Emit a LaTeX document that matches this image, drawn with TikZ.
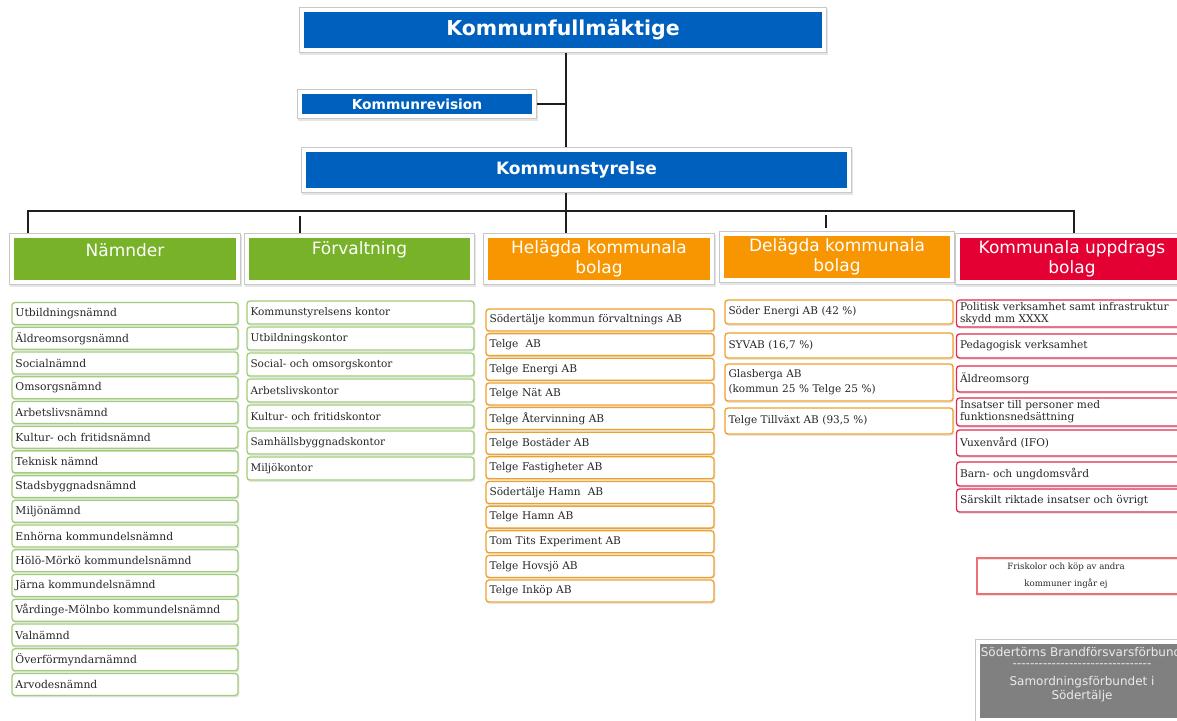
\documentclass[tikz,border=0pt]{standalone}
\usepackage{fontspec}
\setmainfont{DejaVu Serif}
\setsansfont{DejaVu Sans}
\usetikzlibrary{calc}
\definecolor{kblue}{RGB}{0,96,190}
\definecolor{kgreen}{RGB}{120,178,40}
\definecolor{korange}{RGB}{247,150,0}
\definecolor{kred}{RGB}{228,0,50}
\definecolor{kgray}{RGB}{128,128,128}
\definecolor{lgreen}{RGB}{160,205,120}
\definecolor{lorange}{RGB}{240,160,40}
\definecolor{lred}{RGB}{225,40,80}
\definecolor{fred}{RGB}{240,110,110}
\definecolor{conncol}{RGB}{30,30,30}
\begin{document}
\begin{tikzpicture}[x=1pt,y=-1pt,
  frame/.style={draw=white, line width=4pt, inner sep=0pt, outer sep=3pt,
    preaction={draw=black!10, line width=6pt, transform canvas={xshift=1.2pt,yshift=-2pt}},
    preaction={draw=black!22, line width=5.6pt}},
  htxt/.style={font=\sffamily\fontsize{17}{19.5}\selectfont, text=white, align=center, inner sep=0pt},
  btxt/.style={font=\sffamily\bfseries\fontsize{#1}{#1}\selectfont, text=white, inner sep=0pt},
  item/.style={draw=#1, fill=white, rounded corners=3pt, line width=1.3pt, inner xsep=3.5pt, inner ysep=0pt,
    align=left, text=black!85,
    preaction={draw=black!10, line width=1.3pt, transform canvas={xshift=0.8pt,yshift=-1.2pt}}},
  namitem/.style={item=lgreen, text width=219pt, minimum height=22pt, font=\fontsize{10.8}{12}\selectfont},
  foritem/.style={item=lgreen, text width=220pt, minimum height=23pt, font=\fontsize{10.5}{12}\selectfont},
  helitem/.style={item=lorange, text width=221pt, minimum height=22pt, font=\fontsize{10.6}{12}\selectfont},
  delitem/.style={item=lorange, text width=221pt, font=\fontsize{10.5}{15}\selectfont},
  kubitem/.style={item=lred, text width=226pt, font=\fontsize{10.6}{12}\selectfont},
  conn/.style={draw=conncol, line width=1.5pt},
  gtxt/.style={font=\sffamily\fontsize{12}{14}\selectfont, text=black!8, inner sep=0pt}
]
\clip (0,0) rectangle (1177,720);
\fill[white] (0,0) rectangle (1177,720);

% top level
\node[frame, fill=kblue, minimum width=522pt, minimum height=40pt] (kf) at (563,30) {};
\node[btxt=20.5] (kft) at (kf.center) {Kommunfullmäktige};
\node[frame, fill=kblue, minimum width=234pt, minimum height=24pt] (kr) at (417,104) {};
\node[btxt=13.8] (krt) at (kr.center) {Kommunrevision};
\node[frame, fill=kblue, minimum width=545pt, minimum height=40pt] (ks) at (576.5,170) {};
\node[btxt=17] (kst) at (ks.center) {Kommunstyrelse};

% column headers
\node[frame, fill=kgreen, minimum width=226pt, minimum height=46pt] (nam) at (125,259) {};
\node[htxt] (namt) at ($(nam.north)+(0,17)$) {Nämnder};
\node[frame, fill=kgreen, minimum width=225pt, minimum height=46pt] (for) at (359.5,259) {};
\node[htxt] (fort) at ($(for.north)+(0,17)$) {Förvaltning};
\node[frame, fill=korange, minimum width=226pt, minimum height=46pt] (hel) at (599,259) {};
\node[htxt] (helt) at (hel.center) {Helägda kommunala\\bolag};
\node[frame, fill=korange, minimum width=230pt, minimum height=46pt] (del) at (837,257) {};
\node[htxt] (delt) at (del.center) {Delägda kommunala\\bolag};
\node[frame, fill=kred, minimum width=228pt, minimum height=46pt] (kub) at (1072,259) {};
\node[htxt] (kubt) at (kub.center) {Kommunala uppdrags\\bolag};

% connectors
\coordinate (spine) at (566,0);
\coordinate (bL) at (28,211);
\coordinate (bR) at (1074,211);
\draw[conn] (kf.south -| spine) -- (ks.north -| spine);
\draw[conn] (kr.east) -- (kr.east -| spine);
\draw[conn] (ks.south -| spine) -- (hel.north -| spine);
\draw[conn] (nam.north -| bL) -- (bL) -- (bR) -- (kub.north -| bR);
\coordinate (ft) at (300,216);
\draw[conn] (ft) -- (for.north -| ft);
\coordinate (dt) at (826,215);
\coordinate (db) at (826,228);
\draw[conn] (dt) -- (db);

% Nämnder
\foreach \t [count=\i] in {Utbildningsnämnd,Äldreomsorgsnämnd,Socialnämnd,Omsorgsnämnd,Arbetslivsnämnd,Kultur- och fritidsnämnd,Teknisk nämnd,Stadsbyggnadsnämnd,Miljönämnd,Enhörna kommundelsnämnd,Hölö-Mörkö kommundelsnämnd,Järna kommundelsnämnd,Vårdinge-Mölnbo kommundelsnämnd,Valnämnd,Överförmyndarnämnd,Arvodesnämnd}
  \node[namitem] (n\i) at (125,{313.5+(\i-1)*24.73}) {\t};

% Förvaltning
\foreach \t [count=\i] in {Kommunstyrelsens kontor,Utbildningskontor,Social- och omsorgskontor,Arbetslivskontor,Kultur- och fritidskontor,Samhällsbyggnadskontor,Miljökontor}
  \node[foritem] (f\i) at (360.5,{312.5+(\i-1)*26}) {\t};

% Helägda
\foreach \t [count=\i] in {Södertälje kommun förvaltnings AB,Telge\ \ AB,Telge Energi AB,Telge Nät AB,Telge Återvinning AB,Telge Bostäder AB,Telge Fastigheter AB,Södertälje Hamn\ \ AB,Telge Hamn AB,Tom Tits Experiment AB,Telge Hovsjö AB,Telge Inköp AB}
  \node[helitem] (h\i) at (600,{320+(\i-1)*24.64}) {\t};

% Delägda
\node[delitem, minimum height=24pt] (d1) at (839,312) {Söder Energi AB (42 \%)};
\node[delitem, minimum height=25pt] (d2) at (839,345.5) {SYVAB (16,7 \%)};
\node[delitem, minimum height=37pt] (d3) at (839,382.5) {Glasberga AB\\(kommun 25 \% Telge 25 \%)};
\node[delitem, minimum height=26pt] (d4) at (839,421) {Telge Tillväxt AB (93,5 \%)};

% Kommunala uppdrags
\node[kubitem, minimum height=27pt] (u1) at (1073,313.5) {Politisk verksamhet samt infrastruktur\\skydd mm XXXX};
\node[kubitem, minimum height=24pt] (u2) at (1073,346) {Pedagogisk verksamhet};
\node[kubitem, minimum height=26pt] (u3) at (1073,379) {Äldreomsorg};
\node[kubitem, minimum height=28pt] (u4) at (1073,412) {Insatser till personer med\\funktionsnedsättning};
\node[kubitem, minimum height=26pt] (u5) at (1073,443) {Vuxenvård (IFO)};
\node[kubitem, minimum height=24pt] (u6) at (1073,474) {Barn- och ungdomsvård};
\node[kubitem, minimum height=23pt] (u7) at (1073,500.5) {Särskilt riktade insatser och övrigt};

% Friskolor
\node[draw=fred, line width=1.3pt, minimum width=216pt, minimum height=36pt, inner sep=0pt,
  preaction={draw=black!10, line width=1.3pt, transform canvas={xshift=0.8pt,yshift=-1.2pt}}] (fr) at (1085,576) {};
\node[font=\fontsize{8.6}{17}\selectfont, align=center, text=black!85, inner sep=0pt] (frt) at (1066,576) {Friskolor och köp av andra\\kommuner ingår ej};

% Gray box
\node[frame, fill=kgray, minimum width=210pt, minimum height=78pt] (gb) at (1083,681) {};
\node[gtxt] (g1) at (1081,652) {Södertörns Brandförsvarsförbund};
\node[gtxt] (g2) at (1082,666) {-{}-{}-{}-{}-{}-{}-{}-{}-{}-{}-{}-{}-{}-{}-{}-{}-{}-{}-{}-{}-{}-{}-{}-{}-{}-{}-{}-{}-{}-{}-{}-{}};
\node[gtxt] (g3) at (1082,682) {Samordningsförbundet i};
\node[gtxt] (g4) at (1082,696) {Södertälje};
\end{tikzpicture}
\end{document}
